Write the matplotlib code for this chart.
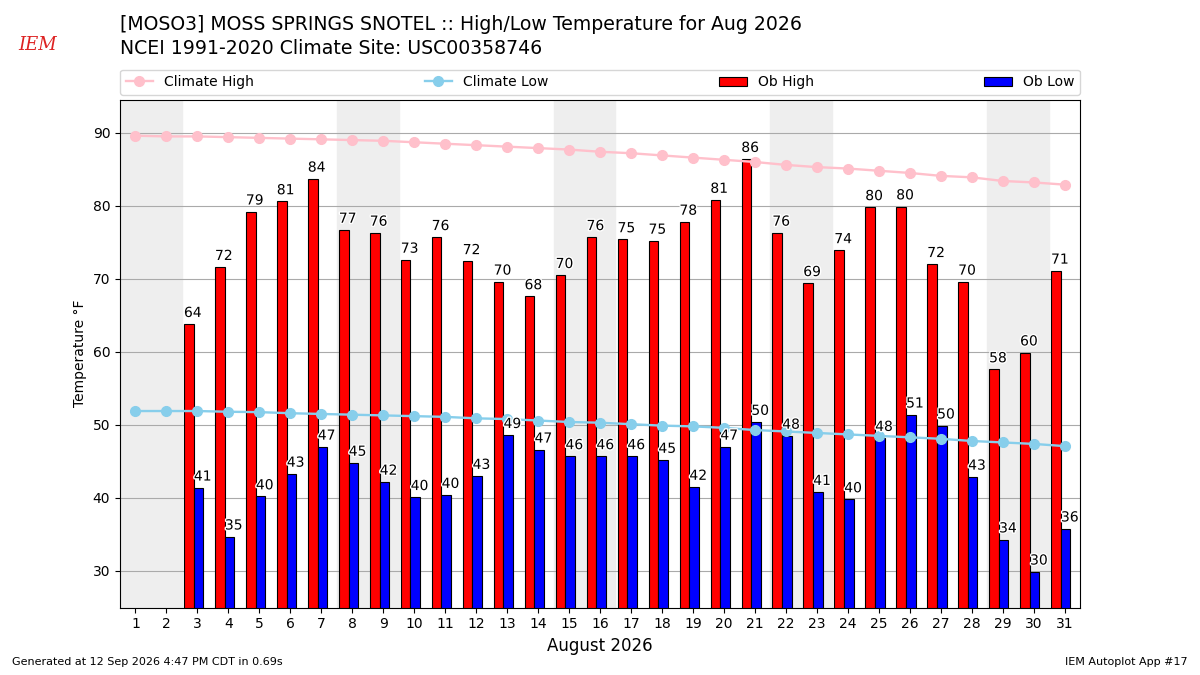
import numpy as np
import matplotlib
matplotlib.use("Agg")
import matplotlib.pyplot as plt
import matplotlib.patheffects as PathEffects

days = list(range(1, 32))
# observed values, days 1-2 missing
ob_high = [None, None, 63.8, 71.6, 79.2, 80.6, 83.7, 76.7, 76.3, 72.6,
           75.7, 72.4, 69.6, 67.6, 70.5, 75.7, 75.4, 75.2, 77.8, 80.8,
           86.4, 76.3, 69.4, 73.9, 79.8, 79.9, 72.0, 69.6, 57.6, 59.9, 71.1]
ob_low = [None, None, 41.4, 34.7, 40.2, 43.3, 47.0, 44.8, 42.2, 40.1,
          40.4, 43.0, 48.6, 46.6, 45.7, 45.7, 45.7, 45.2, 41.5, 47.0,
          50.4, 48.5, 40.8, 39.8, 48.2, 51.4, 49.9, 42.9, 34.3, 29.9, 35.8]
clim_high = [89.6, 89.5, 89.5, 89.4, 89.3, 89.2, 89.1, 89.0, 88.9, 88.7,
             88.5, 88.3, 88.1, 87.9, 87.7, 87.4, 87.2, 86.9, 86.6, 86.3,
             86.0, 85.6, 85.3, 85.1, 84.8, 84.5, 84.1, 83.9, 83.4, 83.2, 82.9]
clim_low = [51.9, 51.9, 51.9, 51.8, 51.75, 51.6, 51.5, 51.4, 51.3, 51.2,
            51.1, 50.9, 50.8, 50.6, 50.4, 50.3, 50.1, 49.9, 49.8, 49.6,
            49.3, 49.1, 48.9, 48.7, 48.5, 48.3, 48.1, 47.8, 47.6, 47.4, 47.1]
weekend_starts = [1, 8, 15, 22, 29]

fig = plt.figure(figsize=(12, 6.75), dpi=100)
ax = fig.add_axes([0.1, 0.1, 0.8, 0.752])

for d in weekend_starts:
    ax.axvspan(d - 0.5, d + 1.5, color='#EEEEEE', zorder=0)

obs = [(d, h, l) for d, h, l in zip(days, ob_high, ob_low) if h is not None]
x = np.array([o[0] for o in obs])
hi = np.array([o[1] for o in obs])
lo = np.array([o[2] for o in obs])

ax.bar(x - 0.43, hi, width=0.31, align='edge', color='r', edgecolor='k',
       linewidth=0.8, label='Ob High', zorder=2)
ax.bar(x - 0.12, lo, width=0.31, align='edge', color='b', edgecolor='k',
       linewidth=0.8, label='Ob Low', zorder=2)

ax.plot(days, clim_high, color='pink', marker='o', markersize=7, lw=1.7,
        label='Climate High', zorder=3)
ax.plot(days, clim_low, color='skyblue', marker='o', markersize=7, lw=1.7,
        label='Climate Low', zorder=3)

for xx, h, l in zip(x, hi, lo):
    for xpos, val in ((xx - 0.15, h), (xx + 0.17, l)):
        t = ax.annotate("%.0f" % val, (xpos, val), xytext=(0, 3),
                        textcoords='offset points', ha='center',
                        va='bottom', fontsize=10, zorder=4)
        t.set_path_effects([PathEffects.withStroke(linewidth=2,
                                                   foreground='white')])

ax.set_xlim(0.5, 31.5)
ax.set_ylim(25, 94.5)
ax.set_xticks(days)
ax.set_yticks([30, 40, 50, 60, 70, 80, 90])
ax.yaxis.grid(True, color='#AAAAAA', zorder=1)
ax.set_axisbelow(True)
ax.set_ylabel("Temperature °F")
ax.set_xlabel("August 2026", fontsize=12)

handles, labels = ax.get_legend_handles_labels()
order = [labels.index(n) for n in ['Climate High', 'Climate Low', 'Ob High', 'Ob Low']]
ax.legend([handles[i] for i in order], [labels[i] for i in order],
          loc='lower left', bbox_to_anchor=(0, 1.01, 1, 0.05), ncol=4,
          mode='expand', borderaxespad=0, fontsize=10)

fig.text(0.1, 0.963, "[MOSO3] MOSS SPRINGS SNOTEL :: High/Low Temperature for Aug 2026",
         fontsize=13.6, va='center')
fig.text(0.1, 0.928, "NCEI 1991-2020 Climate Site: USC00358746",
         fontsize=13.6, va='center')
fig.text(0.031, 0.933, "IEM", color='#DD2222', fontsize=13, family='serif',
         style='italic', va='center', ha='center')
fig.text(0.01, 0.015, "Generated at 12 Sep 2026 4:47 PM CDT in 0.69s", fontsize=8)
fig.text(0.99, 0.015, "IEM Autoplot App #17", fontsize=8, ha='right')

fig.savefig("out.png", dpi=100)
